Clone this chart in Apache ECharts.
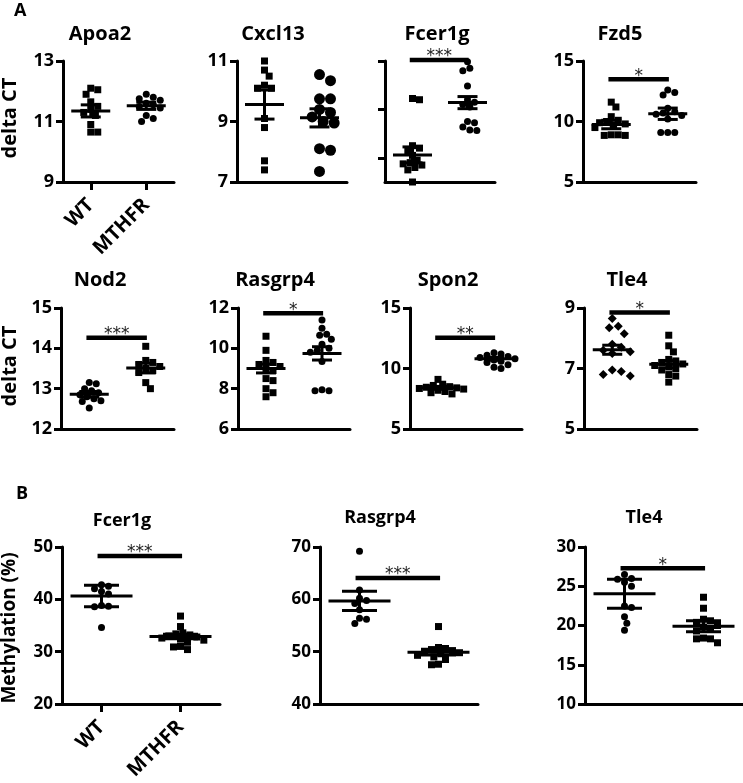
<!DOCTYPE html>
<html><head><meta charset="utf-8">
<script src="https://cdn.jsdelivr.net/npm/echarts@6/dist/echarts.min.js"></script>
<style>html,body{margin:0;padding:0;background:#fff}#c{width:743px;height:783px}</style>
</head><body><div id="c"></div>
<script>
// ---------------- DATA ----------------
const groups = ['WT', 'MTHFR'];

// Panel A (delta CT)
const apoa2WT = [12.1, 12.05, 11.9, 11.65, 11.5, 11.4, 11.3, 11.2, 10.9, 10.65, 10.65];
const apoa2MTHFR = [11.9, 11.8, 11.75, 11.7, 11.6, 11.55, 11.5, 11.45, 11.2, 11.1, 11.0];
const apoa2Mean = [11.35, 11.52], apoa2Sem = [0.2, 0.12];
const apoa2Ticks = [9, 11, 13];

const cxcl13WT = [11.0, 10.7, 10.5, 10.2, 10.1, 10.1, 9.1, 8.8, 7.7, 7.4];
const cxcl13MTHFR = [10.55, 10.35, 9.75, 9.75, 9.4, 9.3, 9.15, 9.0, 8.95, 8.1, 8.05, 7.35];
const cxcl13Mean = [9.56, 9.12], cxcl13Sem = [0.48, 0.3];
const cxcl13Ticks = [7, 9, 11];

const fcer1gWT = [4.45, 4.4, 2.5, 2.4, 2.3, 2.1, 1.9, 1.8, 1.75, 1.7, 1.6, 1.5, 1.0];
const fcer1gMTHFR = [5.97, 5.7, 5.6, 4.97, 4.4, 4.3, 4.2, 4.1, 3.5, 3.45, 3.27, 3.15, 3.13];
const fcer1gMean = [2.12, 4.28], fcer1gSem = [0.33, 0.25];
const fcer1gTicks = [2, 4, 6];          // unlabeled ticks
const fcer1gAxisMin = 1;
const fcer1gSig = [6.04, '***'];

const fzd5WT = [11.6, 11.2, 10.4, 10.1, 10.0, 9.9, 9.8, 9.7, 9.5, 8.9, 8.85, 8.85, 8.9];
const fzd5MTHFR = [12.6, 12.4, 12.2, 11.1, 10.8, 10.7, 10.6, 10.5, 10.2, 9.1, 9.1, 9.1];
const fzd5Mean = [9.75, 10.64], fzd5Sem = [0.35, 0.47];
const fzd5Ticks = [5, 10, 15];
const fzd5Sig = [13.5, '*'];

const nod2WT = [13.15, 13.12, 13.0, 12.95, 12.9, 12.85, 12.8, 12.75, 12.7, 12.68, 12.52];
const nod2MTHFR = [14.05, 13.7, 13.65, 13.6, 13.55, 13.5, 13.45, 13.4, 13.15, 13.0];
const nod2Mean = [12.86, 13.51], nod2Sem = [0.07, 0.12];
const nod2Ticks = [12, 13, 14, 15];
const nod2Sig = [14.26, '***'];

const rasgrp4WT = [10.6, 9.9, 9.4, 9.3, 9.2, 9.1, 9.0, 8.9, 8.5, 8.4, 8.0, 7.8, 7.6];
const rasgrp4MTHFR = [11.4, 11.0, 10.7, 10.65, 10.45, 10.2, 10.0, 9.9, 9.8, 9.35, 7.95, 7.9, 7.9];
const rasgrp4Mean = [9.0, 9.75], rasgrp4Sem = [0.22, 0.33];
const rasgrp4Ticks = [6, 8, 10, 12];
const rasgrp4Sig = [11.74, '*'];

const spon2WT = [9.1, 8.7, 8.6, 8.5, 8.45, 8.4, 8.35, 8.3, 8.2, 8.1, 8.0, 7.9];
const spon2MTHFR = [11.3, 11.2, 11.1, 11.0, 10.9, 10.8, 10.7, 10.6, 10.5, 10.3, 10.1, 10.0];
const spon2Mean = [8.4, 10.8], spon2Sem = [0.12, 0.12];
const spon2Ticks = [5, 10, 15];
const spon2Sig = [12.55, '**'];

const tle4WT = [8.65, 8.4, 8.35, 8.15, 7.8, 7.7, 7.6, 7.55, 7.5, 6.95, 6.9, 6.8, 6.75];
const tle4MTHFR = [8.1, 7.75, 7.55, 7.3, 7.25, 7.2, 7.15, 7.1, 7.05, 7.0, 6.95, 6.8, 6.75, 6.55];
const tle4Mean = [7.62, 7.14], tle4Sem = [0.15, 0.12];
const tle4Ticks = [5, 7, 9];
const tle4Sig = [8.85, '*'];

// Panel B (Methylation %)
const bFcer1gWT = [42.8, 42.5, 42.0, 41.5, 41.0, 38.8, 38.7, 38.6, 34.6];
const bFcer1gMTHFR = [36.8, 34.8, 33.6, 33.4, 33.2, 33.0, 32.8, 32.6, 32.4, 32.2, 31.8, 31.0, 30.9, 30.4];
const bFcer1gMean = [40.65, 32.9], bFcer1gSem = [2.05, 0.45];
const bFcer1gTicks = [20, 30, 40, 50];
const bFcer1gSig = [48.3, '***'];

const bRasgrp4WT = [69.2, 61.8, 60.2, 59.8, 59.2, 58.0, 56.4, 56.2, 55.4];
const bRasgrp4MTHFR = [54.8, 50.8, 50.6, 50.4, 50.2, 50.0, 49.8, 49.6, 49.3, 49.0, 48.5, 47.6, 47.5];
const bRasgrp4Mean = [59.7, 49.9], bRasgrp4Sem = [1.85, 0.55];
const bRasgrp4Ticks = [40, 50, 60, 70];
const bRasgrp4Sig = [64.1, '***'];

const bTle4WT = [26.5, 26.0, 25.9, 25.5, 25.0, 22.5, 22.3, 21.1, 20.3, 19.4];
const bTle4MTHFR = [23.6, 22.2, 20.8, 20.6, 20.4, 20.0, 19.8, 19.6, 19.3, 18.4, 18.3, 18.3, 17.8];
const bTle4Mean = [24.05, 19.9], bTle4Sem = [1.85, 0.7];
const bTle4Ticks = [10, 15, 20, 25, 30];
const bTle4Sig = [27.3, '*'];

// ---------------- LAYOUT ----------------
const FONT = '"Open Sans", "Noto Sans", sans-serif';
const panels = [
  {t:'Apoa2', wt:apoa2WT, mt:apoa2MTHFR, mean:apoa2Mean, sem:apoa2Sem, ticks:apoa2Ticks, g:[63,61,111,121], sym:['rect','circle'], sz:[7,7], tx:100, ty:34, cat:true, big:false},
  {t:'Cxcl13', wt:cxcl13WT, mt:cxcl13MTHFR, mean:cxcl13Mean, sem:cxcl13Sem, ticks:cxcl13Ticks, g:[237,61,110,121], sym:['rect','circle'], sz:[7,11], tx:273, ty:34},
  {t:'Fcer1g', wt:fcer1gWT, mt:fcer1gMTHFR, mean:fcer1gMean, sem:fcer1gSem, ticks:fcer1gTicks, min:fcer1gAxisMin, noLabel:true, sig:fcer1gSig, g:[385,61,110,121], sym:['rect','circle'], sz:[7,7], tx:437, ty:34},
  {t:'Fzd5', wt:fzd5WT, mt:fzd5MTHFR, mean:fzd5Mean, sem:fzd5Sem, ticks:fzd5Ticks, sig:fzd5Sig, g:[583,61,113,121], sym:['rect','circle'], sz:[7,7], tx:620, ty:34},
  {t:'Nod2', wt:nod2WT, mt:nod2MTHFR, mean:nod2Mean, sem:nod2Sem, ticks:nod2Ticks, sig:nod2Sig, g:[61,308,113,121], sym:['circle','rect'], sz:[7,7], tx:100, ty:280},
  {t:'Rasgrp4', wt:rasgrp4WT, mt:rasgrp4MTHFR, mean:rasgrp4Mean, sem:rasgrp4Sem, ticks:rasgrp4Ticks, sig:rasgrp4Sig, g:[238,308,112,121], sym:['rect','circle'], sz:[7,7], tx:275, ty:280},
  {t:'Spon2', wt:spon2WT, mt:spon2MTHFR, mean:spon2Mean, sem:spon2Sem, ticks:spon2Ticks, sig:spon2Sig, g:[410,308,112,121], sym:['rect','circle'], sz:[7,7], tx:448, ty:280},
  {t:'Tle4', wt:tle4WT, mt:tle4MTHFR, mean:tle4Mean, sem:tle4Sem, ticks:tle4Ticks, sig:tle4Sig, g:[584,308,113,121], sym:['diamond','rect'], sz:[9,7], tx:627, ty:280},
  {t:'Fcer1g', wt:bFcer1gWT, mt:bFcer1gMTHFR, mean:bFcer1gMean, sem:bFcer1gSem, ticks:bFcer1gTicks, sig:bFcer1gSig, g:[62,547,158,157], sym:['circle','rect'], sz:[7,7], tx:122, ty:521, cat:true, big:true},
  {t:'Rasgrp4', wt:bRasgrp4WT, mt:bRasgrp4MTHFR, mean:bRasgrp4Mean, sem:bRasgrp4Sem, ticks:bRasgrp4Ticks, sig:bRasgrp4Sig, g:[320,547,158,157], sym:['circle','rect'], sz:[7,7], tx:380, ty:518, big:true},
  {t:'Tle4', wt:bTle4WT, mt:bTle4MTHFR, mean:bTle4Mean, sem:bTle4Sem, ticks:bTle4Ticks, sig:bTle4Sig, g:[585,547,158,157], sym:['circle','rect'], sz:[7,7], tx:644, ty:518, big:true}
];

function swarm(vals, center, s, pxY, pxX) {
  const idx = vals.map((v, i) => i).sort((a, b) => vals[b] - vals[a]);
  const placed = [];
  const out = new Array(vals.length);
  const step = s / 3;
  for (const i of idx) {
    const y = vals[i] * pxY;
    let off = 0;
    for (let k = 0; k < 200; k++) {
      const n = Math.ceil(k / 2) * (k % 2 === 1 ? 1 : -1);
      off = n * step;
      if (placed.every(p => (p[0] - off) ** 2 + (p[1] - y) ** 2 >= (s * 0.95) ** 2)) break;
    }
    placed.push([off, y]);
    out[i] = [center + off / pxX, vals[i]];
  }
  return out;
}

const grid = [], xAxis = [], yAxis = [], series = [], graphic = [];
const axisCol = '#000';
panels.forEach((p, i) => {
  const [L, T, W, H] = p.g;
  grid.push({left: L, top: T, width: W, height: H, containLabel: false});
  const fs = p.big ? 17 : 18;
  xAxis.push({
    type: 'category', gridIndex: i, data: groups, boundaryGap: true,
    axisLine: {lineStyle: {color: axisCol, width: 3}},
    axisTick: {show: !!p.cat, alignWithLabel: true, length: 8, lineStyle: {color: axisCol, width: 3}},
    axisLabel: {show: !!p.cat, rotate: 45, margin: 20, color: '#000', fontWeight: 'bold', fontSize: 20, fontFamily: FONT},
    splitLine: {show: false}
  });
  xAxis.push({type: 'value', gridIndex: i, min: 0, max: 2, show: false});
  const ymin = p.min !== undefined ? p.min : p.ticks[0];
  const ymax = p.ticks[p.ticks.length - 1];
  yAxis.push({
    type: 'value', gridIndex: i, min: ymin, max: ymax,
    axisLine: {show: true, lineStyle: {color: axisCol, width: 3}},
    axisTick: {show: true, customValues: p.ticks, length: 7, lineStyle: {color: axisCol, width: 3}},
    axisLabel: {show: !p.noLabel, customValues: p.ticks, margin: 9, color: '#000', fontWeight: 'bold', fontSize: fs, fontFamily: FONT},
    splitLine: {show: false}
  });
  const pxY = H / (ymax - ymin), pxX = W / 2;
  const xi = 2 * i + 1;
  [p.wt, p.mt].forEach((vals, gi) => {
    series.push({
      type: 'scatter', xAxisIndex: xi, yAxisIndex: i, symbol: p.sym[gi], symbolSize: p.sz[gi],
      itemStyle: {color: '#000', opacity: 1}, silent: true, z: 2,
      data: swarm(vals, gi + 0.5, p.sz[gi], pxY, pxX)
    });
  });
  const mh = p.big ? 31 : 19.5, ch = p.big ? 17.5 : 10;
  series.push({
    type: 'custom', xAxisIndex: xi, yAxisIndex: i, silent: true, z: 3,
    data: groups.map((g, gi) => [gi + 0.5, p.mean[gi], p.sem[gi]]),
    renderItem: (params, api) => {
      const x = api.value(0), m = api.value(1), e = api.value(2);
      const c = api.coord([x, m]), t = api.coord([x, m + e]), b = api.coord([x, m - e]);
      const st = {stroke: '#000', lineWidth: 3};
      return {type: 'group', children: [
        {type: 'line', shape: {x1: c[0] - mh, y1: c[1], x2: c[0] + mh, y2: c[1]}, style: st},
        {type: 'line', shape: {x1: c[0], y1: t[1], x2: c[0], y2: b[1]}, style: st},
        {type: 'line', shape: {x1: c[0] - ch, y1: t[1], x2: c[0] + ch, y2: t[1]}, style: st},
        {type: 'line', shape: {x1: c[0] - ch, y1: b[1], x2: c[0] + ch, y2: b[1]}, style: st}
      ]};
    }
  });
  if (p.sig) {
    const label = p.sig[1];
    series.push({
      type: 'custom', xAxisIndex: xi, yAxisIndex: i, silent: true, z: 3, clip: false,
      data: [[0.45, p.sig[0], 1.52]],
      renderItem: (params, api) => {
        const a = api.coord([api.value(0), api.value(1)]);
        const b = api.coord([api.value(2), api.value(1)]);
        return {type: 'group', children: [
          {type: 'line', shape: {x1: a[0], y1: a[1], x2: b[0], y2: b[1]}, style: {stroke: '#000', lineWidth: 4.5}},
          {type: 'text', x: (a[0] + b[0]) / 2, y: a[1] - 3, style: {text: label, fill: '#222', fontSize: 17, fontFamily: '"DejaVu Sans", sans-serif', align: 'center', verticalAlign: 'middle'}}
        ]};
      }
    });
  }
  graphic.push({type: 'text', x: p.tx, y: p.ty, style: {text: p.t, fill: '#000', fontSize: p.big ? 18 : 20, fontWeight: 'bold', fontFamily: FONT, align: 'center', verticalAlign: 'middle', textAlign: 'center', textVerticalAlign: 'middle'}});
});

graphic.push({type: 'text', x: 14, y: 11, style: {text: 'A', fill: '#000', fontSize: 18, fontWeight: 'bold', fontFamily: FONT, align: 'left', verticalAlign: 'middle', textAlign: 'left', textVerticalAlign: 'middle'}});
graphic.push({type: 'text', x: 16, y: 494, style: {text: 'B', fill: '#000', fontSize: 18, fontWeight: 'bold', fontFamily: FONT, align: 'left', verticalAlign: 'middle', textAlign: 'left', textVerticalAlign: 'middle'}});
const yName = (txt, x, y, fs) => ({type: 'text', x: x, y: y, rotation: Math.PI / 2, style: {text: txt, fill: '#000', fontSize: fs, fontWeight: 'bold', fontFamily: FONT, align: 'center', verticalAlign: 'middle', textAlign: 'center', textVerticalAlign: 'middle'}});
graphic.push(yName('delta CT', 10, 118, 20));
graphic.push(yName('delta CT', 10, 366, 20));
graphic.push(yName('Methylation (%)', 10, 628, 19));

const chart = echarts.init(document.getElementById('c'), null, {renderer: 'canvas'});
chart.setOption({
  animation: false,
  backgroundColor: '#fff',
  textStyle: {fontFamily: FONT},
  grid, xAxis, yAxis, series, graphic
});
</script>
</body></html>
